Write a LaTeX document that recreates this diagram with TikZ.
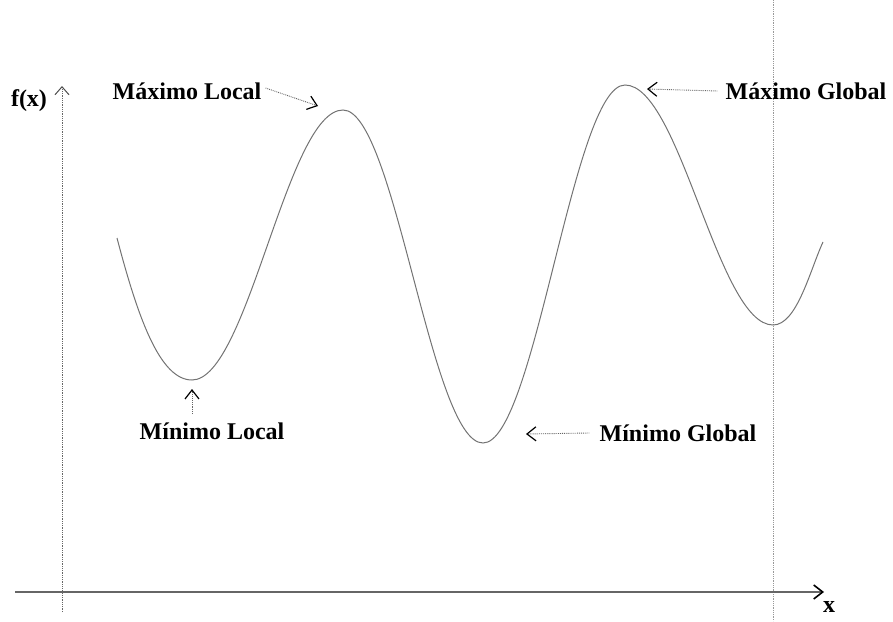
\documentclass[tikz,border=0pt]{standalone}
\usepackage{fontspec}
\setmainfont{Liberation Serif}
\usetikzlibrary{arrows.meta}
\tikzset{
  lbl/.style={font=\fontsize{24}{28}\selectfont\bfseries, inner sep=0pt},
  curve/.style={draw=black!55, line width=1pt},
  pointer/.style={draw=black!60, line width=0.9pt, densely dotted, -{Straight Barb[length=9pt,width=14pt,line width=1.2pt,black]}},
  axisline/.style={draw=black!60, line width=1.2pt},
  guide/.style={draw=black!40, line width=0.8pt, densely dotted},
}
\begin{document}
\begin{tikzpicture}[x=1pt,y=-1pt]
\useasboundingbox (0,0) rectangle (893,621);
% guide line
\draw[guide] (773,0) -- (773,621);
% axes
\coordinate (xa0) at (15,592);
\coordinate (xa1) at (824,592);
\coordinate (ya0) at (62,612);
\coordinate (ya1) at (62,86);
\draw[axisline, -{Straight Barb[length=9pt,width=14pt,line width=1.6pt,black]}] (xa0) -- (xa1);
\draw[guide, draw=black!60, -{Straight Barb[length=8pt,width=14pt,line width=1pt,black!70]}] (ya0) -- (ya1);
\node[lbl] (fx) at (29,101) {f(x)};
\node[lbl] (xl) at (829,607) {x};
% curve
\coordinate (s) at (117,238);
\coordinate (m1) at (192,380);
\coordinate (M1) at (343,110);
\coordinate (m2) at (483,443);
\coordinate (M2) at (625,85);
\coordinate (m3) at (773,325);
\coordinate (e) at (823,242);
\draw[curve] (s) .. controls (138,318) and (160,380) .. (m1)
  .. controls (248,380) and (287,110) .. (M1)
  .. controls (395,110) and (431,443) .. (m2)
  .. controls (535,443) and (573,85) .. (M2)
  .. controls (680,85) and (718,325) .. (m3)
  .. controls (797,325) and (810,270) .. (e);
% labels
\node[lbl] (ml) at (187,91) {Máximo Local};
\node[lbl] (mg) at (806,91) {Máximo Global};
\node[lbl] (nl) at (212,431) {Mínimo Local};
\node[lbl] (ng) at (678,433) {Mínimo Global};
\coordinate (pml) at (318,106);
\coordinate (pmg) at (647,89);
\coordinate (pnl) at (192,389);
\coordinate (png) at (526,434);
\draw[pointer] ([xshift=4pt,yshift=3pt]ml.east) -- (pml);
\draw[pointer] ([xshift=-8pt]mg.west) -- (pmg);
\draw[pointer] (192,414) -- (pnl);
\draw[pointer] ([xshift=-10pt]ng.west) -- (png);
\end{tikzpicture}
\end{document}
